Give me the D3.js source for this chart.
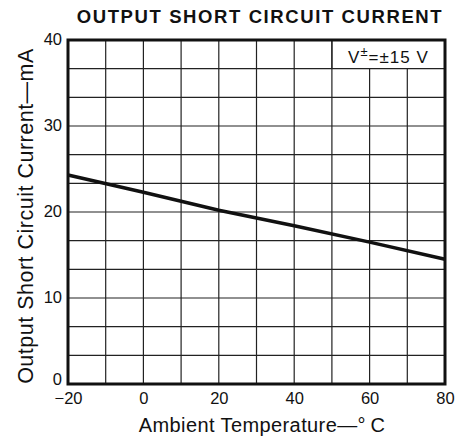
<!DOCTYPE html>
<html>
<head>
<meta charset="utf-8">
<script src="https://cdn.jsdelivr.net/npm/d3@7"></script>
<style>
body{margin:0;background:#fff}
text{font-family:"Liberation Sans",Arial,sans-serif;fill:#111}
</style>
</head>
<body>
<div></div>
<script>
// data
const temps = [-20, 0, 20, 40, 60, 80]
const current = [24.3, 22.3, 20.2, 18.4, 16.5, 14.5]
const xTicks = [-20, 0, 20, 40, 60, 80]
const yTicks = [0, 10, 20, 30, 40]

const svgWidth = 461, svgHeight = 440
const margin = {top:40, right:16, bottom:56, left:68}
const w = svgWidth - margin.left - margin.right
const h = svgHeight - margin.top - margin.bottom

function translate(x,y){return `translate(${x}, ${y})`}

const svg = d3.select("div").append("svg").attr("width",svgWidth).attr("height",svgHeight)
const g = svg.append("g").attr("transform",translate(margin.left,margin.top))

const x = d3.scaleLinear().domain([-20,80]).range([0,w])
const y = d3.scaleLinear().domain([0,40]).range([h,0])

// grid: every 10 C, every 10/3 mA; top-right box for the label
const boxX = 50, boxY = 40 - 10/3
const grid = g.append("g").attr("stroke","#222").attr("stroke-width",1.2)
d3.range(-10,80,10).forEach(v=>{
  grid.append("line").attr("x1",x(v)).attr("x2",x(v)).attr("y1",h)
    .attr("y2", v>boxX ? y(boxY) : 0)
})
d3.range(1,12).forEach(i=>{
  const v = i*10/3
  grid.append("line").attr("x1",0).attr("x2",w).attr("y1",y(v)).attr("y2",y(v))
})
grid.append("line").attr("x1",x(boxX)).attr("x2",x(boxX)).attr("y1",0).attr("y2",y(boxY))

g.append("rect").attr("width",w).attr("height",h).attr("fill","none")
  .attr("stroke","#111").attr("stroke-width",3)

g.append("text").attr("x",(x(boxX)+x(80))/2).attr("y",y(boxY)-6)
  .attr("text-anchor","middle").attr("font-size",17).attr("letter-spacing",1)
  .html('V<tspan dy="-7" font-size="13">±</tspan><tspan dy="7">=±15 V</tspan>')

// curve
const line = d3.line().x((d,i)=>x(temps[i])).y(d=>y(d))
g.append("path").datum(current).attr("d",line).attr("fill","none")
  .attr("stroke","#111").attr("stroke-width",3.5)

// axes
const xAxis = d3.axisBottom(x).tickValues(xTicks).tickSize(0).tickPadding(8)
  .tickFormat(d=> d<0 ? "\u2212"+(-d) : d)
const yAxis = d3.axisLeft(y).tickValues(yTicks).tickSize(0).tickPadding(6)
const xg = g.append("g").attr("transform",translate(0,h)).call(xAxis)
const yg = g.append("g").call(yAxis)
;[xg,yg].forEach(a=>{
  a.select(".domain").remove()
  a.selectAll("text").attr("font-size",16.5).attr("fill","#111")
    .style("font-family",'"Liberation Sans",Arial,sans-serif')
})
yg.selectAll("text").attr("dy",d=> d===0 ? "0.05em" : "0.3em")

svg.append("text").attr("x",260).attr("y",23)
  .attr("text-anchor","middle").attr("font-size",18.5).attr("font-weight","bold")
  .attr("letter-spacing",1.6).text("OUTPUT SHORT CIRCUIT CURRENT")

svg.append("text").attr("x",262).attr("y",432)
  .attr("text-anchor","middle").attr("font-size",20).attr("letter-spacing",0.4)
  .text("Ambient Temperature\u2014\u00b0\u2009C")

svg.append("text").attr("transform",translate(33,216)+" rotate(-90)")
  .attr("text-anchor","middle").attr("font-size",21.5).attr("letter-spacing",0.5)
  .text("Output Short Circuit Current\u2014mA")
</script>
</body>
</html>
